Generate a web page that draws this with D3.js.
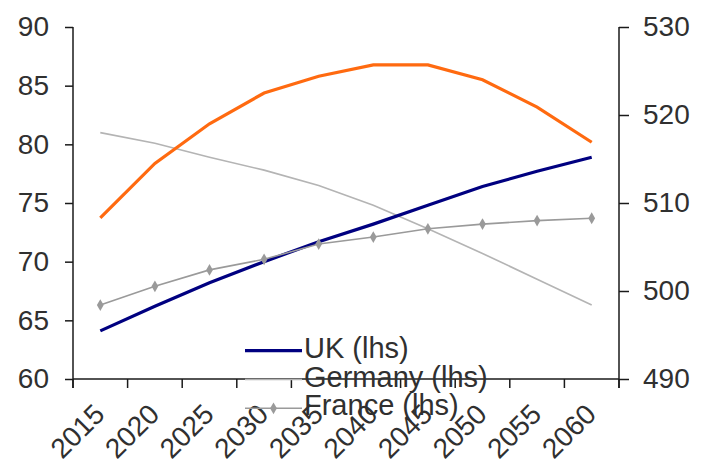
<!DOCTYPE html>
<html>
<head>
<meta charset="utf-8">
<script src="https://cdn.jsdelivr.net/npm/d3@7"></script>
<style>
  html, body { margin: 0; padding: 0; background: #fff; }
  svg { display: block; font-family: "Liberation Sans", Arial, sans-serif; }
</style>
</head>
<body>
<svg id="chart" width="707" height="463"></svg>
<script>
// Years on the category axis
const years = ["2015", "2020", "2025", "2030", "2035", "2040", "2045", "2050", "2055", "2060"];

// Left-hand-scale series
const ukValues      = [64.1, 66.2, 68.2, 70.0, 71.7, 73.2, 74.8, 76.4, 77.7, 78.9];
const germanyValues = [81.0, 80.1, 78.9, 77.8, 76.5, 74.8, 72.8, 70.7, 68.5, 66.3];
const franceValues  = [66.3, 67.9, 69.3, 70.2, 71.5, 72.1, 72.8, 73.2, 73.5, 73.7];

// Right-hand-scale series
const euValues      = [508.3, 514.5, 519.0, 522.5, 524.4, 525.7, 525.7, 524.0, 520.9, 516.9];

// Axis ticks
const leftTicks  = [60, 65, 70, 75, 80, 85, 90];
const rightTicks = [490, 500, 510, 520, 530];

// Legend labels
const legendLabels = ["UK (lhs)", "Germany (lhs)", "France (lhs)"];

const svg = d3.select("#chart");
const fontSize = 28;
const legendFontSize = 29;
const textColor = "#303030";
const axisColor = "#1a1a1a";

const plot = { left: 73, right: 619, top: 27, bottom: 379 };

const x = d3.scaleBand().domain(years).range([plot.left, plot.right]).padding(0);
const cx = d => x(d) + x.bandwidth() / 2;
const yL = d3.scaleLinear().domain([60, 90]).range([plot.bottom, plot.top]);
const yR = d3.scaleLinear().domain([490, 530]).range([plot.bottom, plot.top]);

// Left axis
const gL = svg.append("g")
  .attr("transform", `translate(${plot.left},0)`)
  .call(d3.axisLeft(yL).tickValues(leftTicks).tickSize(8).tickSizeOuter(0).tickPadding(16));
// Right axis
const gR = svg.append("g")
  .attr("transform", `translate(${plot.right},0)`)
  .call(d3.axisRight(yR).tickValues(rightTicks).tickSize(10).tickSizeOuter(0).tickPadding(14));

[gL, gR].forEach(g => {
  g.select(".domain").attr("stroke", axisColor).attr("stroke-width", 1.5)
    .attr("d", `M0,${plot.top}V${plot.bottom + 9}`);
  g.selectAll(".tick line").attr("stroke", axisColor).attr("stroke-width", 1.5);
  g.selectAll(".tick text").attr("fill", textColor).attr("font-size", fontSize)
    .attr("font-family", "Liberation Sans, Arial, sans-serif");
});

// Category axis: boundary tick marks and rotated year labels
const gX = svg.append("g");
gX.append("line")
  .attr("x1", plot.left).attr("x2", plot.right)
  .attr("y1", plot.bottom).attr("y2", plot.bottom)
  .attr("stroke", axisColor).attr("stroke-width", 1.5);
const edges = years.map(d => x(d)).concat([x(years[years.length - 1]) + x.bandwidth()]);
gX.selectAll("line.edge").data(edges).join("line")
  .attr("class", "edge")
  .attr("x1", d => d).attr("x2", d => d)
  .attr("y1", plot.bottom).attr("y2", plot.bottom + 9)
  .attr("stroke", axisColor).attr("stroke-width", 1.5);
gX.selectAll("text").data(years).join("text")
  .attr("transform", d => `translate(${cx(d) + 6},${plot.bottom + 37}) rotate(-45)`)
  .attr("text-anchor", "end")
  .attr("fill", textColor)
  .attr("font-size", fontSize)
  .text(d => d);

// Series lines
const lineL = d3.line().x((d, i) => cx(years[i])).y(d => yL(d));
const lineR = d3.line().x((d, i) => cx(years[i])).y(d => yR(d));

svg.append("path").datum(germanyValues)
  .attr("d", lineL).attr("fill", "none")
  .attr("stroke", "#b4b4b4").attr("stroke-width", 1.6);

svg.append("path").datum(ukValues)
  .attr("d", lineL).attr("fill", "none")
  .attr("stroke", "#000080").attr("stroke-width", 3.2);

svg.append("path").datum(franceValues)
  .attr("d", lineL).attr("fill", "none")
  .attr("stroke", "#9a9a9a").attr("stroke-width", 1.6);

const diamond = d3.symbol().type(d3.symbolDiamond).size(40);
svg.selectAll("path.fr-marker").data(franceValues).join("path")
  .attr("class", "fr-marker")
  .attr("d", diamond)
  .attr("transform", (d, i) => `translate(${cx(years[i])},${yL(d)})`)
  .attr("fill", "#9a9a9a");

svg.append("path").datum(euValues)
  .attr("d", lineR).attr("fill", "none")
  .attr("stroke", "#ff6a10").attr("stroke-width", 3.2);

// Legend
const legendStyles = [
  { color: "#000080", width: 3.2, marker: false },
  { color: "#b4b4b4", width: 1.6, marker: false },
  { color: "#9a9a9a", width: 1.6, marker: true }
];
const legend = svg.append("g");
const legendX0 = 245, legendX1 = 302, legendY0 = 350.7, legendStep = 28.8;
legendLabels.forEach((label, i) => {
  const y = legendY0 + i * legendStep;
  const s = legendStyles[i];
  legend.append("line")
    .attr("x1", legendX0).attr("x2", legendX1)
    .attr("y1", y).attr("y2", y)
    .attr("stroke", s.color).attr("stroke-width", s.width);
  if (s.marker) {
    legend.append("path").attr("d", diamond)
      .attr("transform", `translate(${(legendX0 + legendX1) / 2},${y})`)
      .attr("fill", s.color);
  }
  legend.append("text")
    .attr("x", legendX1 + 2).attr("y", y + 7)
    .attr("fill", textColor).attr("font-size", legendFontSize)
    .text(label);
});
</script>
</body>
</html>
